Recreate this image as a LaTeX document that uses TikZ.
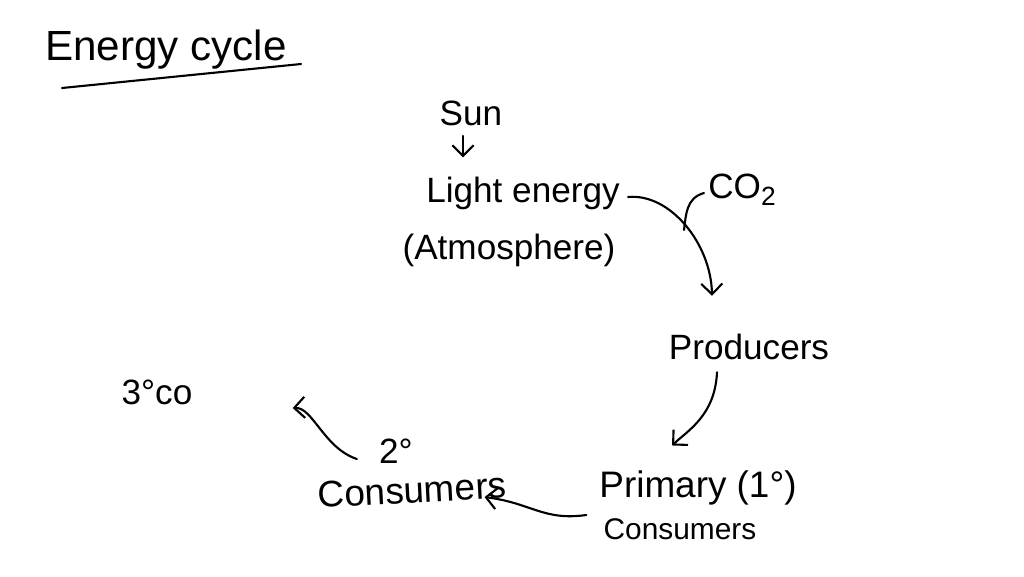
\documentclass[tikz,border=0pt]{standalone}
\usepackage{fontspec}
\setmainfont{Liberation Sans}
\usetikzlibrary{arrows.meta,calc}
\newcommand{\fsz}[1]{\fontsize{#1}{#1}\selectfont}
\begin{document}
\begin{tikzpicture}[x=0.02cm,y=-0.02cm,
  lbl/.style={inner sep=0pt,font=\fsz{20}},
  conn/.style={line width=1.2pt,line cap=round,-{Straight Barb[length=6pt,width=12pt]}},
  plain/.style={line width=1.2pt,line cap=round}]
\useasboundingbox (0,0) rectangle (1024,576);
% title
\node[lbl,font=\fsz{24},anchor=west] (title) at (45,50) {Energy cycle};
\coordinate (ulA) at (62,88);
\coordinate (ulB) at (301,64);
\draw[plain] (ulA) -- (ulB);
% nodes
\node[lbl] (sun) at (471,113) {Sun};
\node[lbl] (light) at (523,193) {Light energy};
\node[lbl] (atm) at (509,250) {(Atmosphere)};
\node[lbl] (co2) at (742,190) {CO\raisebox{-4pt}{\fsz{15}2}};
\node[lbl] (prod) at (749,347) {Producers};
\node[lbl,font=\fsz{21}] (prim) at (698,488) {Primary (1°)};
\node[lbl,font=\fsz{17}] (pcons) at (680,529) {Consumers};
\node[lbl] (two) at (396,451) {2°};
\node[lbl,font=\fsz{21},rotate=3] (scons) at (412,490) {Consumers};
\node[lbl] (three) at (157,392) {3°co};
% connectors
\draw[conn] ($(sun.south)+(-8,10)$) -- ($(light.north)+(-60,-19)$);
\draw[conn] ($(light.east)+(8,4)$) .. controls ($(light.east)+(50,0)$) and ($(prod.north)+(-38,-90)$) .. ($(prod.north)+(-37,-38)$);
\coordinate (join) at (684,230);
\draw[plain] ($(co2.west)+(-4,3)$) .. controls ($(co2.west)+(-22,8)$) and (686,215) .. (join);
\draw[conn] ($(prod.south)+(-32,12)$) .. controls ($(prod.south)+(-34,55)$) and ($(prim.north)+(-10,-40)$) .. ($(prim.north)+(-26,-25)$);
\draw[conn] ($(pcons.west)+(-17,-14)$) .. controls ($(pcons.west)+(-60,-8)$) and ($(scons.east)+(25,18)$) .. ($(scons.east)+(-22,12)$);
\draw[conn] ($(two.west)+(-22,8)$) .. controls ($(two.west)+(-55,-3)$) and ($(three.east)+(120,15)$) .. ($(three.east)+(100,16)$);
\end{tikzpicture}
\end{document}
